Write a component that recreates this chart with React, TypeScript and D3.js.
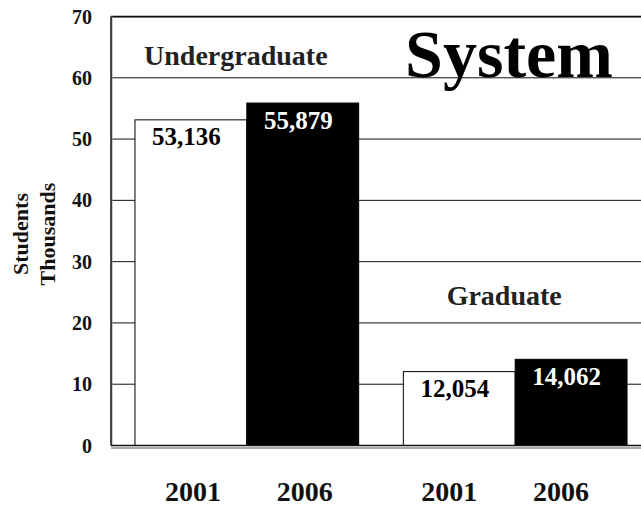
import * as d3 from "d3";

const width = 641;
const height = 508;
const margin = { top: 16.5, right: 0, bottom: 62.5, left: 111 };

// data (thousands of students)
const groups = ["Undergraduate", "Graduate"];
const years = ["2001", "2006"];
const undergraduate = [53.136, 55.879];
const graduate = [12.054, 14.062];
const yTicks = [0, 10, 20, 30, 40, 50, 60, 70];
const title = "System";
const axisTitle = ["Students", "Thousands"];

const yearFill: Record<string, string> = { "2001": "#ffffff", "2006": "#000000" };
const labelFill: Record<string, string> = { "2001": "#000000", "2006": "#ffffff" };

// layout tweaks
const groupLabelBaseline = [65, 305];
const yearLabelShift = [2, -10];

const font = "Liberation Serif, Times New Roman, Times, serif";

export default function App() {
  const values = [undergraduate, graduate];
  const fmt = d3.format(",.0f");

  const yScale = d3
    .scaleLinear()
    .domain([0, 70])
    .range([height - margin.bottom, margin.top]);

  const xGroup = d3
    .scaleBand<string>()
    .domain(groups)
    .range([margin.left, width - margin.right])
    .paddingInner(0.1664)
    .paddingOuter(0.0707)
    .align(0.632);

  const xYear = d3
    .scaleBand<string>()
    .domain(years)
    .range([0, xGroup.bandwidth()])
    .padding(0);

  const y0 = yScale(0);
  const right = width - margin.right;

  const bars = groups.flatMap((g, gi) =>
    years.map((yr, yi) => ({
      group: g,
      gi,
      year: yr,
      value: values[gi][yi],
      x: (xGroup(g) as number) + (xYear(yr) as number),
      w: xYear.bandwidth(),
    }))
  );

  return (
    <svg
      width={width}
      height={height}
      viewBox={`0 0 ${width} ${height}`}
      style={{ position: "absolute", left: 0, top: 0, background: "#fff", fontFamily: font, fontWeight: 700 }}
    >
      <rect x={0} y={0} width={width} height={height} fill="#fff" />

      {/* gridlines */}
      {yTicks
        .filter((t) => t > 0 && t < 70)
        .map((t) => (
          <line
            key={t}
            x1={margin.left}
            x2={right}
            y1={yScale(t)}
            y2={yScale(t)}
            stroke="#111"
            strokeWidth={1}
          />
        ))}

      {/* bars */}
      {bars.map((b) => (
        <rect
          key={b.group + b.year}
          x={b.x}
          y={yScale(b.value)}
          width={b.w}
          height={y0 - yScale(b.value)}
          fill={yearFill[b.year]}
          stroke="#000"
          strokeWidth={1}
        />
      ))}

      {/* value labels */}
      {bars.map((b) => (
        <text
          key={"v" + b.group + b.year}
          x={b.x + b.w / 2 - 4.5}
          y={yScale(b.value) + 25.5}
          textAnchor="middle"
          fontSize={25}
          fill={labelFill[b.year]}
        >
          {fmt(b.value * 1000)}
        </text>
      ))}

      {/* frame */}
      <line x1={margin.left} x2={right} y1={margin.top + 1} y2={margin.top + 1} stroke="#999" strokeWidth={1} />
      <line x1={margin.left} x2={right} y1={margin.top} y2={margin.top} stroke="#111" strokeWidth={1.5} />
      <line x1={margin.left + 1} x2={margin.left + 1} y1={margin.top} y2={y0} stroke="#999" strokeWidth={1} />
      <line x1={margin.left} x2={margin.left} y1={margin.top} y2={y0} stroke="#111" strokeWidth={1.5} />
      <line x1={margin.left} x2={right} y1={y0 + 2.5} y2={y0 + 2.5} stroke="#aaa" strokeWidth={2} />
      <line x1={margin.left} x2={right} y1={y0} y2={y0} stroke="#111" strokeWidth={1.5} />

      {/* y tick labels */}
      {yTicks.map((t) => (
        <text key={"t" + t} x={92} y={yScale(t)} dy="0.35em" textAnchor="end" fontSize={20} fill="#111">
          {t}
        </text>
      ))}

      {/* axis title */}
      {axisTitle.map((s, i) => (
        <text
          key={s}
          transform={`translate(${27.5 + i * 27.5},${234}) rotate(-90)`}
          textAnchor="middle"
          fontSize={22}
          fill="#111"
        >
          {s}
        </text>
      ))}

      {/* year labels */}
      {bars.map((b) => (
        <text
          key={"x" + b.group + b.year}
          x={b.x + b.w / 2 + yearLabelShift[b.gi]}
          y={501}
          textAnchor="middle"
          fontSize={28}
          fill="#111"
        >
          {b.year}
        </text>
      ))}

      {/* group labels */}
      {groups.map((g, gi) => (
        <text
          key={"g" + g}
          x={(xGroup(g) as number) + xGroup.bandwidth() / 2 - 11}
          y={groupLabelBaseline[gi]}
          textAnchor="middle"
          fontSize={28}
          fill="#222"
        >
          {g}
        </text>
      ))}

      <text x={509} y={77} textAnchor="middle" fontSize={68} fill="#000">
        {title}
      </text>
    </svg>
  );
}
